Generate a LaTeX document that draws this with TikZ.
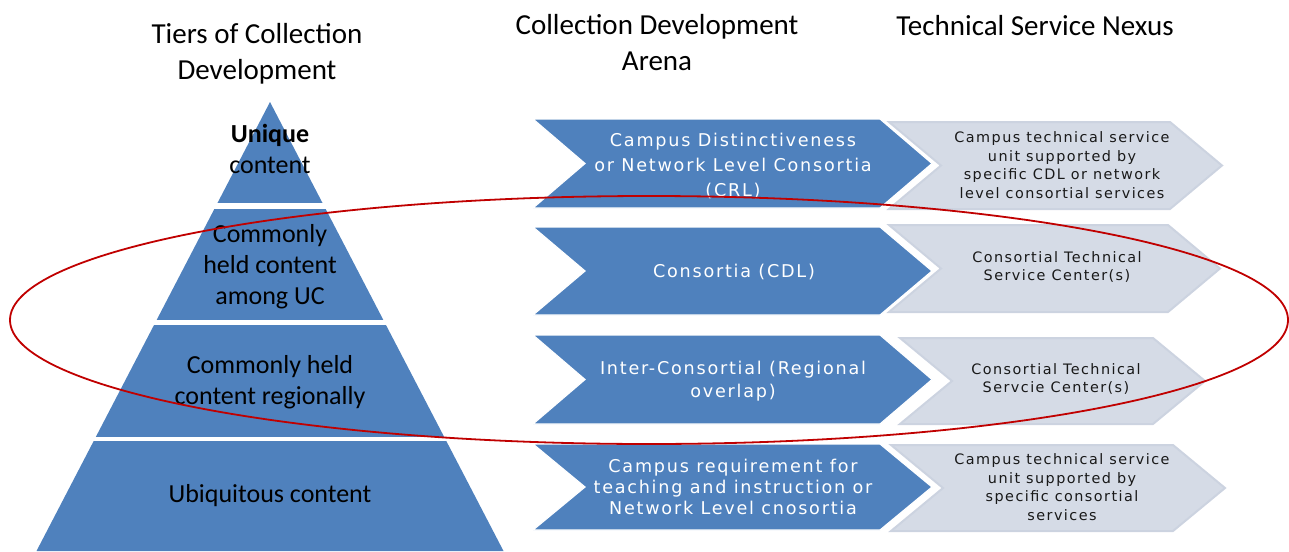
\documentclass[tikz,border=0pt]{standalone}
\usepackage{fontspec}
\setmainfont{Carlito}
\newfontfamily\chevfont[LetterSpace=10]{DejaVu Sans}
\definecolor{tierblue}{HTML}{4F81BD}
\definecolor{nexusgrey}{HTML}{D5DBE6}
\definecolor{nexusedge}{HTML}{CCD3E0}
\definecolor{ringred}{HTML}{C00000}
\newcommand\drawchev[6]{% style, left, top, bottom, shoulder, depth
  \path[#1] (#2,#3) -- (#5,#3) -- ({#5+#6},{(#3+#4)/2}) -- (#5,#4) -- (#2,#4)
    -- ({#2+#6},{(#3+#4)/2}) -- cycle;}
\begin{document}
\begin{tikzpicture}[x=1pt,y=-1pt,
  header/.style={align=center,font=\fontsize{29}{36}\selectfont},
  tiertext/.style={align=center,text=black,font=\fontsize{26}{31}\selectfont},
  arenatext/.style={align=center,text=white},
  nexustext/.style={align=center,text=black!90,font=\chevfont\fontsize{14.4}{18.5}\selectfont},
  arenachev/.style={fill=tierblue,draw=white,line width=1.2pt},
  nexuschev/.style={fill=nexusgrey,draw=nexusedge,line width=2pt},
  gapband/.style={fill=white}]
\useasboundingbox (0,0) rectangle (1289,551);

% column headings
\node[header] (h1) at (257,54) {Tiers of Collection\\Development};
\node[header] (h2) at (657,43) {Collection Development\\Arena};
\node[header] (h3) at (1035,26) {Technical Service Nexus};

% pyramid of tiers, cut into four bands
\fill[tierblue] (270,102) -- (503.5,551) -- (36.5,551) -- cycle;
\fill[gapband] (0,203) rectangle (520,209);
\fill[gapband] (0,320) rectangle (520,325);
\fill[gapband] (0,437) rectangle (520,441);
\node[tiertext] (t1) at (270,149) {\textbf{Unique}\\content};
\node[tiertext] (t2) at (270,267) {Commonly\\held content\\among UC};
\node[tiertext] (t3) at (270,382) {Commonly held\\content regionally};
\node[tiertext] (t4) at (270,496) {Ubiquitous content};

% collection development arena
\drawchev{arenachev}{533}{119}{208}{880}{52}
\drawchev{arenachev}{533}{227}{315}{880}{52}
\drawchev{arenachev}{533}{335}{424}{880}{52}
\drawchev{arenachev}{533}{444}{530}{880}{52}
\node[arenatext,font=\chevfont\fontsize{17.6}{25}\selectfont] (a1) at (733,166)
  {Campus Distinctiveness\\or Network Level Consortia\\(CRL)};
\node[arenatext,font=\chevfont\fontsize{17.6}{23}\selectfont] (a2) at (734,272)
  {Consortia (CDL)};
\node[arenatext,font=\chevfont\fontsize{17.6}{23}\selectfont] (a3) at (733,381)
  {Inter-Consortial (Regional\\overlap)};
\node[arenatext,font=\chevfont\fontsize{17.6}{21}\selectfont] (a4) at (733,487)
  {Campus requirement for\\teaching and instruction or\\Network Level cnosortia};

% technical service nexus
\drawchev{nexuschev}{889}{122}{209}{1170}{52}
\drawchev{nexuschev}{889}{225}{312}{1168}{52}
\drawchev{nexuschev}{900}{338}{424}{1153}{52}
\drawchev{nexuschev}{891}{445}{531}{1173}{52}
\node[nexustext] (n1) at (1062,165)
  {Campus technical service\\unit supported by\\specific CDL or network\\level consortial services};
\node[nexustext] (n2) at (1057,267)
  {Consortial Technical\\Service Center(s)};
\node[nexustext] (n3) at (1056,379)
  {Consortial Technical\\Servcie Center(s)};
\node[nexustext] (n4) at (1062,487)
  {Campus technical service\\unit supported by\\specific consortial\\services};

% ring around the shared tiers
\draw[ringred,line width=1.8pt] (649,320) ellipse [x radius=639, y radius=124];
\end{tikzpicture}
\end{document}
